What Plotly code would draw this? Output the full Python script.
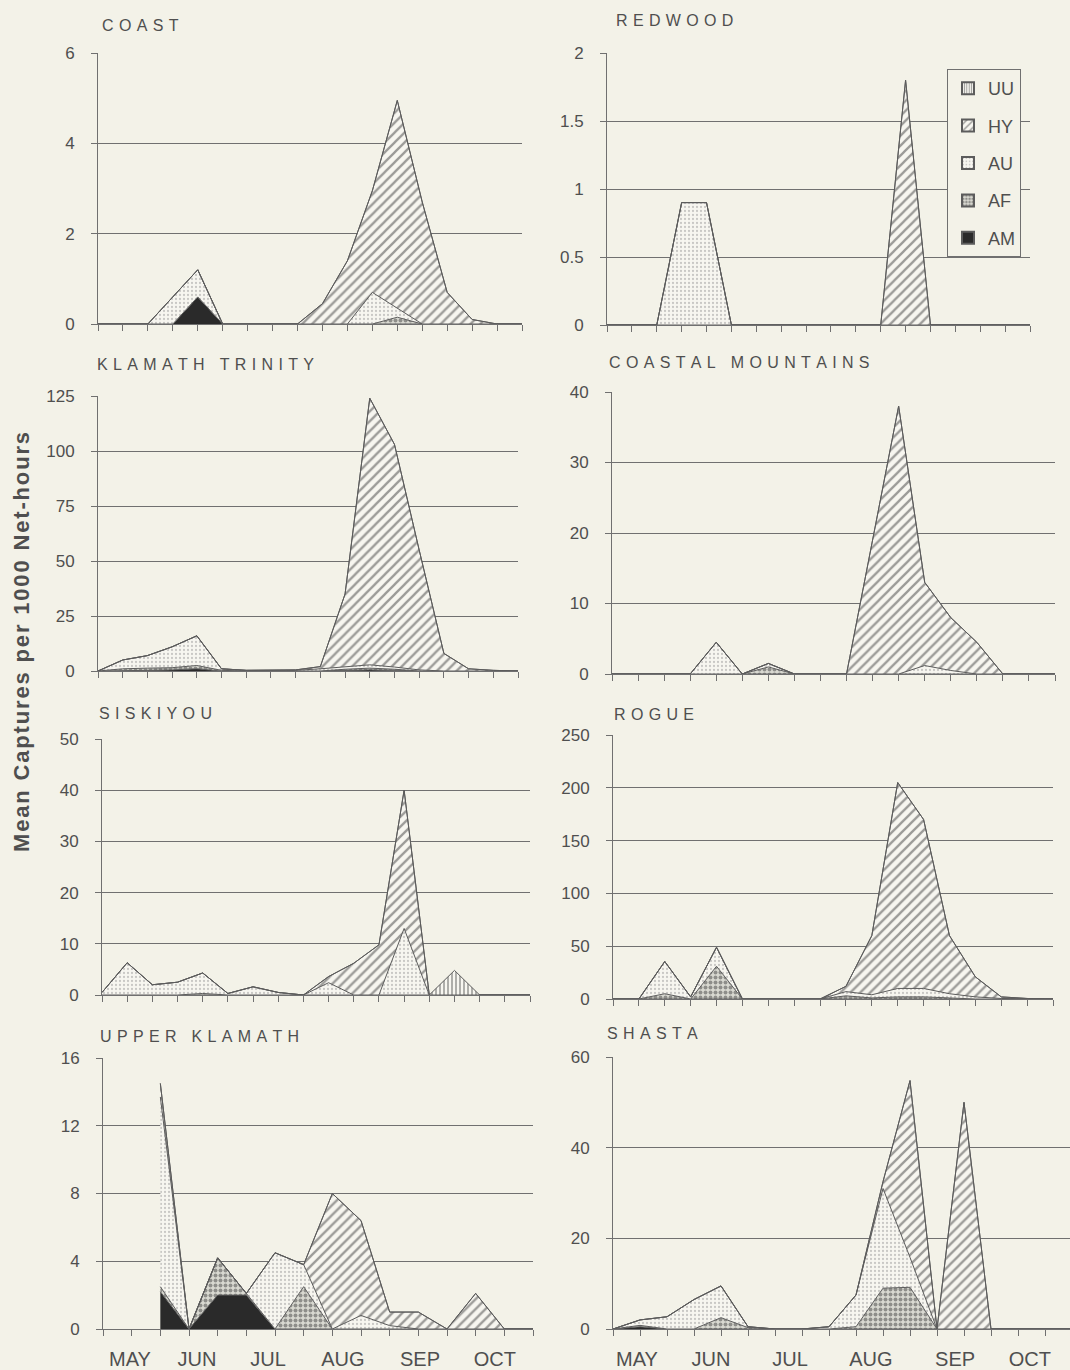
import plotly.graph_objects as go

# ---------------- data ----------------
SERIES = ["AM", "AF", "AU", "HY", "UU"]          # stacking order, bottom -> top
LEGEND_ORDER = ["UU", "HY", "AU", "AF", "AM"]
MONTHS = ["MAY", "JUN", "JUL", "AUG", "SEP", "OCT"]
TITLES = ["COAST", "REDWOOD", "KLAMATH TRINITY", "COASTAL MOUNTAINS",
          "SISKIYOU", "ROGUE", "UPPER KLAMATH", "SHASTA"]
Y_TITLE = "Mean Captures per 1000 Net-hours"

COAST_AM = [0, 0, 0, 0, 0.6, 0, 0, 0, 0, 0, 0, 0, 0, 0, 0, 0, 0, 0]
COAST_AF = [0, 0, 0, 0, 0, 0, 0, 0, 0, 0, 0, 0, 0.15, 0, 0, 0, 0, 0]
COAST_AU = [0, 0, 0, 0.6, 0.6, 0, 0, 0, 0, 0, 0, 0.7, 0.2, 0, 0, 0, 0, 0]
COAST_HY = [0, 0, 0, 0, 0, 0, 0, 0, 0, 0.45, 1.4, 2.25, 4.6, 2.7, 0.7, 0.1, 0, 0]

REDWOOD_AU = [0, 0, 0, 0.9, 0.9, 0, 0, 0, 0, 0, 0, 0, 0, 0, 0, 0, 0, 0]
REDWOOD_HY = [0, 0, 0, 0, 0, 0, 0, 0, 0, 0, 0, 0, 1.8, 0, 0, 0, 0, 0]

KT_AM = [0, 0.3, 0.3, 0.5, 1.0, 0, 0, 0, 0, 0, 0.3, 0.5, 0.3, 0, 0, 0, 0, 0]
KT_AF = [0, 0.7, 1.0, 1.0, 1.5, 0.3, 0, 0, 0, 0, 0.5, 0.8, 0.5, 0, 0, 0, 0, 0]
KT_AU = [0, 4.0, 5.7, 9.5, 13.5, 0.7, 0.3, 0.3, 0.3, 1.0, 1.0, 1.5, 1.0, 0.5, 0, 0, 0, 0]
KT_HY = [0, 0, 0, 0, 0, 0, 0, 0, 0.2, 1.0, 33.2, 121.2, 101.2, 54.5, 8, 1, 0.3, 0]

CM_AF = [0, 0, 0, 0, 0, 0, 1.0, 0, 0, 0, 0, 0, 0, 0, 0, 0, 0, 0]
CM_AU = [0, 0, 0, 0, 4.5, 0, 0.5, 0, 0, 0, 0, 0, 1.2, 0.5, 0, 0, 0, 0]
CM_HY = [0, 0, 0, 0, 0, 0, 0, 0, 0, 0, 19, 38, 11.8, 7.5, 4.5, 0, 0, 0]

SIS_AF = [0, 0, 0, 0, 0.3, 0, 0, 0, 0, 0, 0, 0, 0, 0, 0, 0, 0, 0]
SIS_AU = [0.5, 6.3, 2.0, 2.5, 4.0, 0.3, 1.6, 0.5, 0, 2.4, 0, 0, 13, 0, 0, 0, 0, 0]
SIS_HY = [0, 0, 0, 0, 0, 0, 0, 0, 0, 1.2, 6.2, 9.8, 27, 0, 0, 0, 0, 0]
SIS_UU = [0, 0, 0, 0, 0, 0, 0, 0, 0, 0, 0, 0, 0, 0, 4.8, 0, 0, 0]

ROGUE_AF = [0, 0, 5, 0, 31, 0, 0, 0, 0, 3, 1, 2, 2, 1, 0, 0, 0, 0]
ROGUE_AU = [0, 0, 30.5, 2, 18, 0, 0, 0, 0, 4, 3, 8, 8, 4, 2, 0.5, 0, 0]
ROGUE_HY = [0, 0, 0, 0, 0, 0, 0, 0, 0, 5, 56, 195, 160, 55, 19, 1.5, 0.5, 0]

UK_AM = [None, None, 2.2, 0, 2.0, 2.0, 0, 0, 0, 0, 0, 0, 0, 0, 0, 0]
UK_AF = [None, None, 0.3, 0, 2.2, 0.1, 0, 2.5, 0, 0, 0, 0, 0, 0, 0, 0]
UK_AU = [None, None, 11.2, 0, 0, 0, 4.5, 1.3, 0, 0.8, 0.2, 0, 0, 0, 0, 0]
UK_HY = [None, None, 0.8, 0, 0, 0, 0, 0, 8, 5.6, 0.8, 1.0, 0, 2.1, 0, 0]

SH_AM = [0, 0.5, 0, 0, 0, 0, 0, 0, 0, 0, 0, 0, 0, 0, 0, 0, 0, 0]
SH_AF = [0, 0.3, 0, 0, 2.5, 0.3, 0, 0, 0, 0.5, 9, 9.2, 0, 0, 0, 0, 0, 0]
SH_AU = [0, 1.2, 2.7, 6.5, 7, 0.2, 0, 0, 0.5, 7, 22, 6.6, 0, 0, 0, 0, 0, 0]
SH_HY = [0, 0, 0, 0, 0, 0, 0, 0, 0, 0, 1.5, 39, 0, 50, 0, 0, 0, 0]

Y_MAX = [6, 2, 125, 40, 50, 250, 16, 60]
Y_TICKS = [[0, 2, 4, 6], [0, 0.5, 1, 1.5, 2], [0, 25, 50, 75, 100, 125],
           [0, 10, 20, 30, 40], [0, 10, 20, 30, 40, 50], [0, 50, 100, 150, 200, 250],
           [0, 4, 8, 12, 16], [0, 20, 40, 60]]
N_PERIODS = [18, 18, 18, 18, 18, 18, 16, 18]

PANEL_DATA = [
    {"AM": COAST_AM, "AF": COAST_AF, "AU": COAST_AU, "HY": COAST_HY},
    {"AU": REDWOOD_AU, "HY": REDWOOD_HY},
    {"AM": KT_AM, "AF": KT_AF, "AU": KT_AU, "HY": KT_HY},
    {"AF": CM_AF, "AU": CM_AU, "HY": CM_HY},
    {"AF": SIS_AF, "AU": SIS_AU, "HY": SIS_HY, "UU": SIS_UU},
    {"AF": ROGUE_AF, "AU": ROGUE_AU, "HY": ROGUE_HY},
    {"AM": UK_AM, "AF": UK_AF, "AU": UK_AU, "HY": UK_HY},
    {"AM": SH_AM, "AF": SH_AF, "AU": SH_AU, "HY": SH_HY},
]

# ---------------- layout / style ----------------
W, H = 1070, 1370
BG = "#f3f2e8"
GRID = "#707070"
TXT = "#4f4f4f"
FONT = "Liberation Sans, Arial, sans-serif"
LIGHT = "#f7f6f0"

# plot rectangles in pixels: x0, x1, y_top, y_bottom, x-range end
RECTS = [
    (98, 522, 53, 324, 17),
    (607, 1030, 53, 325, 17),
    (98, 518, 396, 671, 17),
    (612, 1055, 392, 674, 17),
    (102, 530, 739, 995, 17),
    (613, 1053, 735, 999, 17),
    (103, 533, 1058, 1329, 15),
    (613, 1070, 1057, 1329, 17 * 457 / 459),
]
TITLE_POS = [(100, 25), (614, 21), (95, 364), (607, 362), (97, 713),
             (612, 714), (98, 1036), (605, 1033)]
MONTH_POS = {6: [0.94, 3.28, 5.76, 8.37, 11.06, 13.67],
             7: [0.89, 3.63, 6.56, 9.55, 12.67, 15.44]}

FILL = {
    "AM": dict(fillcolor="#2a2a2a"),
    "AF": dict(fillpattern=dict(shape=".", fgcolor="#444444", bgcolor="#d9d9d1",
                                size=5, solidity=0.5)),
    "AU": dict(fillpattern=dict(shape=".", fgcolor="#9a9a9a", bgcolor=LIGHT,
                                size=4, solidity=0.25)),
    "HY": dict(fillpattern=dict(shape="/", fgcolor="#404040", bgcolor=LIGHT,
                                size=7, solidity=0.33)),
    "UU": dict(fillpattern=dict(shape="|", fgcolor="#404040", bgcolor=LIGHT,
                                size=4, solidity=0.4)),
}
LEGEND_MARKER = {
    "AM": dict(color="#2a2a2a"),
    "AF": dict(color="#d9d9d1", pattern=dict(shape=".", fgcolor="#444444",
                                             bgcolor="#d9d9d1", size=4, solidity=0.5)),
    "AU": dict(color=LIGHT, pattern=dict(shape=".", fgcolor="#9a9a9a",
                                         bgcolor=LIGHT, size=4, solidity=0.25)),
    "HY": dict(color=LIGHT, pattern=dict(shape="/", fgcolor="#404040",
                                         bgcolor=LIGHT, size=6, solidity=0.3)),
    "UU": dict(color=LIGHT, pattern=dict(shape="|", fgcolor="#404040",
                                         bgcolor=LIGHT, size=3, solidity=0.4)),
}


def px_x(p):
    return p / W


def px_y(p):
    return 1 - p / H


def spaced(s, sep="\u2004"):
    return (sep + " " + sep).join(sep.join(w) for w in s.split(" "))


fig = go.Figure()

for i, data in enumerate(PANEL_DATA):
    s = "" if i == 0 else str(i + 1)
    n = N_PERIODS[i]
    cum = [0.0] * n
    for j, name in enumerate(SERIES):
        vals = data.get(name, [0] * n)
        cum = [None if (c is None or v is None) else c + v
               for c, v in zip(cum, vals)]
        xs = [k for k, v in enumerate(cum) if v is not None]
        ys = [v for v in cum if v is not None]
        fig.add_trace(go.Scatter(
            x=xs, y=ys, name=name, mode="lines",
            fill="tozeroy" if j == 0 else "tonexty",
            line=dict(color="#5c5c5c", width=1),
            xaxis=f"x{s}", yaxis=f"y{s}",
            showlegend=False, hoverinfo="skip",
            **FILL[name]))

    x0, x1, yt, yb, xr = RECTS[i]
    bottom = i in MONTH_POS
    fig.layout[f"xaxis{s}"] = dict(
        domain=[px_x(x0), px_x(x1)], range=[0, xr], anchor=f"y{s}",
        automargin=False,
        showline=True, linecolor=GRID, linewidth=1, showgrid=False, zeroline=False,
        tickmode="array", tickvals=MONTH_POS.get(i, []), ticktext=MONTHS,
        ticks="outside", ticklen=0, tickcolor="rgba(0,0,0,0)",
        showticklabels=bottom, ticklabelstandoff=12,
        tickfont=dict(family=FONT, size=20, color=TXT),
        minor=dict(tickmode="array", tickvals=list(range(n)), ticks="outside",
                   ticklen=6, tickcolor=GRID, tickwidth=1, showgrid=False),
        fixedrange=True)
    fig.layout[f"yaxis{s}"] = dict(
        domain=[px_y(yb), px_y(yt)], range=[0, Y_MAX[i]], anchor=f"x{s}",
        automargin=False,
        tickmode="array", tickvals=Y_TICKS[i],
        ticks="outside", ticklen=6, tickcolor=GRID, tickwidth=1,
        showline=True, linecolor=GRID, linewidth=1,
        showgrid=True, gridcolor=GRID, gridwidth=1, zeroline=False,
        ticklabelstandoff=13,
        tickfont=dict(family=FONT, size=17, color=TXT),
        fixedrange=True)

    tx, ty = TITLE_POS[i]
    fig.add_annotation(text=spaced(TITLES[i]), xref="paper", yref="paper",
                       x=px_x(tx), y=px_y(ty), xanchor="left", yanchor="middle",
                       showarrow=False, font=dict(family=FONT, size=16, color=TXT))

# legend entries (swatches only, no data)
for rank, name in enumerate(LEGEND_ORDER):
    fig.add_trace(go.Bar(x=[None], y=[None], name=name, xaxis="x2", yaxis="y2",
                         marker=dict(line=dict(color="#5c5c5c", width=1),
                                     **LEGEND_MARKER[name]),
                         legendgroup=name, legendrank=rank + 1,
                         showlegend=True, hoverinfo="skip"))

fig.add_annotation(text="\u200a".join(Y_TITLE), xref="paper", yref="paper",
                   x=px_x(21), y=px_y(642), xanchor="center", yanchor="middle",
                   textangle=-90, showarrow=False,
                   font=dict(family=FONT, size=22, color=TXT, weight="bold"))

fig.update_layout(
    width=W, height=H, margin=dict(l=0, r=0, t=0, b=0, pad=0, autoexpand=False),
    paper_bgcolor=BG, plot_bgcolor=BG,
    showlegend=True,
    legend=dict(x=px_x(947), y=px_y(69), xanchor="left", yanchor="top",
                bgcolor=BG, bordercolor=GRID, borderwidth=1,
                font=dict(family=FONT, size=18, color=TXT),
                traceorder="grouped", tracegroupgap=11, itemwidth=30,
                itemsizing="constant"),
)

fig.write_html(
    "out.html",
    config={"displayModeBar": False},
    post_script="document.body.style.margin='0';"
                "document.body.style.background='%s';"
                "document.body.style.overflow='hidden';" % BG,
)
